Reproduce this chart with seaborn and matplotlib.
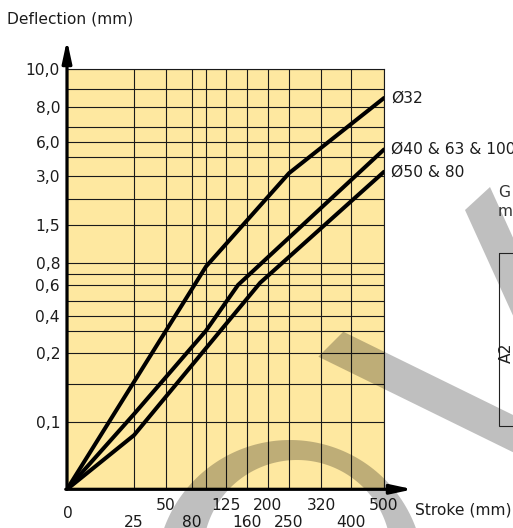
import numpy as np
import pandas as pd
import matplotlib
matplotlib.use("Agg")
import matplotlib.pyplot as plt
import seaborn as sns
from matplotlib.path import Path
from matplotlib.patches import PathPatch, Polygon, Rectangle

# ---------------- data ----------------
SERIES = ["Ø32", "Ø40 & 63 & 100", "Ø50 & 80"]
STROKE_32 = [0, 100, 250, 500]
DEFL_32 = [0, 0.77, 3.3, 8.5]
STROKE_40 = [0, 25, 100, 145, 500]
DEFL_40 = [0, 0.11, 0.3, 0.6, 5.5]
STROKE_50 = [0, 25, 185, 500]
DEFL_50 = [0, 0.08, 0.62, 3.45]

X_GRID = [0, 25, 50, 80, 100, 125, 160, 200, 250, 320, 400, 500]
X_LABELS_UPPER = [50, 125, 200, 320, 500]
X_LABELS_LOWER = [25, 80, 160, 250, 400]
Y_GRID = [0, 0.1, 0.15, 0.2, 0.3, 0.4, 0.5, 0.6, 0.7, 0.8, 1.5, 2, 3, 5, 6, 7, 8, 9, 10]
Y_LABELED = [0.1, 0.2, 0.4, 0.6, 0.8, 1.5, 3, 6, 8, 10]

# ---------------- layout (nomogram scale definition) ----------------
W, H = 513, 528
AX_L, AX_R, AX_T, AX_B = 67, 384, 69.3, 489.3
X_POS_PX = [67, 134, 166, 192, 206, 226, 247, 268, 289, 321, 351, 384]
Y_POS_PX = [489.3, 421.7, 383.7, 353.3, 330.7, 315.7, 300.7, 285, 274, 263.3,
            225.3, 199, 176, 157.3, 141.7, 126.7, 107.3, 88.7, 69.3]
x_frac = [(p - AX_L) / (AX_R - AX_L) for p in X_POS_PX]
y_frac = [(AX_B - p) / (AX_B - AX_T) for p in Y_POS_PX]


def make_interp(xs, ys):
    xs = np.asarray(xs, float)
    ys = np.asarray(ys, float)

    def f(v):
        v = np.asarray(v, float)
        out = np.interp(v, xs, ys)
        lo = v < xs[0]
        hi = v > xs[-1]
        out = np.where(lo, ys[0] + (v - xs[0]) * (ys[1] - ys[0]) / (xs[1] - xs[0]), out)
        out = np.where(hi, ys[-1] + (v - xs[-1]) * (ys[-1] - ys[-2]) / (xs[-1] - xs[-2]), out)
        return out
    return f


fx, fx_inv = make_interp(X_GRID, x_frac), make_interp(x_frac, X_GRID)
fy, fy_inv = make_interp(Y_GRID, y_frac), make_interp(y_frac, Y_GRID)

sns.set_style("white")
plt.rcParams["font.family"] = ["DejaVu Sans"]
FS = 11.2
TXT = "#1c1c1c"
YELLOW = "#FEE8A0"

fig = plt.figure(figsize=(W / 100, H / 100), dpi=100)
fig.patch.set_facecolor("white")
ax = fig.add_axes([AX_L / W, (H - AX_B) / H, (AX_R - AX_L) / W, (AX_B - AX_T) / H])
ax.set_facecolor(YELLOW)

df = pd.concat([
    pd.DataFrame({"stroke": STROKE_32, "deflection": DEFL_32, "series": SERIES[0]}),
    pd.DataFrame({"stroke": STROKE_40, "deflection": DEFL_40, "series": SERIES[1]}),
    pd.DataFrame({"stroke": STROKE_50, "deflection": DEFL_50, "series": SERIES[2]}),
], ignore_index=True)

sns.lineplot(data=df, x="stroke", y="deflection", hue="series",
             palette=["black"] * 3, linewidth=2.9, legend=False, ax=ax,
             sort=False, estimator=None, solid_joinstyle="round")

ax.set_xscale("function", functions=(fx, fx_inv))
ax.set_yscale("function", functions=(fy, fy_inv))
ax.set_xlim(X_GRID[0], X_GRID[-1])
ax.set_ylim(Y_GRID[0], Y_GRID[-1])
ax.set_xticks(X_GRID)
ax.set_xticklabels([])
ax.set_yticks(Y_GRID)
ax.set_yticklabels([f"{v:.1f}".replace(".", ",") if v in Y_LABELED else "" for v in Y_GRID])
ax.minorticks_off()
ax.tick_params(axis="both", length=0)
ax.tick_params(axis="y", pad=5, labelsize=FS, labelcolor=TXT)
ax.set_xlabel("")
ax.set_ylabel("")
ax.grid(True, color="#1a1a1a", lw=0.8)
ax.set_axisbelow(True)
for s in ["left", "bottom"]:
    ax.spines[s].set_visible(False)
for s in ["top", "right"]:
    ax.spines[s].set_visible(True)
    ax.spines[s].set_color("#1a1a1a")
    ax.spines[s].set_linewidth(0.8)

# axis arrows
arrow_style = "-|>,head_length=1.3,head_width=0.28"
ax.annotate("", xy=(0, (AX_B - 40) / (AX_B - AX_T)), xytext=(0, 0), xycoords="axes fraction",
            arrowprops=dict(arrowstyle=arrow_style, lw=2.3, color="black",
                            shrinkA=0, shrinkB=0, mutation_scale=10), annotation_clip=False)
ax.annotate("", xy=((413 - AX_L) / (AX_R - AX_L), 0), xytext=(-0.004, 0), xycoords="axes fraction",
            arrowprops=dict(arrowstyle=arrow_style, lw=2.3, color="black",
                            shrinkA=0, shrinkB=0, mutation_scale=10), annotation_clip=False)

# x tick labels (two staggered rows)
ax.annotate("0", xy=(0, 0), xycoords=("data", "axes fraction"), xytext=(1, -24),
            textcoords="offset pixels", ha="center", va="center", fontsize=FS, color=TXT,
            annotation_clip=False)
for v in X_LABELS_UPPER:
    ax.annotate(str(v), xy=(v, 0), xycoords=("data", "axes fraction"), xytext=(0, -16),
                textcoords="offset pixels", ha="center", va="center", fontsize=FS, color=TXT,
                annotation_clip=False)
for v in X_LABELS_LOWER:
    ax.annotate(str(v), xy=(v, 0), xycoords=("data", "axes fraction"), xytext=(0, -33),
                textcoords="offset pixels", ha="center", va="center", fontsize=FS, color=TXT,
                annotation_clip=False)

# series labels at line ends
for name, s, d in zip(SERIES, [STROKE_32, STROKE_40, STROKE_50], [DEFL_32, DEFL_40, DEFL_50]):
    ax.annotate(name, xy=(s[-1], d[-1]), xytext=(7, 0), textcoords="offset pixels",
                ha="left", va="center", fontsize=FS, color=TXT, annotation_clip=False)

ax.annotate("Stroke (mm)", xy=(1, 0), xycoords="axes fraction", xytext=(31, -21),
            textcoords="offset pixels", ha="left", va="center", fontsize=FS, color=TXT,
            annotation_clip=False)
fig.text(7 / W, 1 - 19 / H, "Deflection (mm)", ha="left", va="center", fontsize=FS, color=TXT)

# decorative watermark overlay (figure pixel space)
ov = fig.add_axes([0, 0, 1, 1], zorder=5)
ov.set_xlim(0, W)
ov.set_ylim(H, 0)
ov.axis("off")
ov.patch.set_alpha(0)
th = np.linspace(0, 2 * np.pi, 240)
outer = np.c_[290 + 134 * np.cos(th), 574 + 134 * np.sin(th)]
inner = np.c_[297 + 94 * np.cos(th), 554 + 94 * np.sin(th)][::-1]
ring = Path.make_compound_path(Path(outer, closed=True), Path(inner, closed=True))
shade = dict(facecolor="black", alpha=0.25, edgecolor="none")
ov.add_patch(PathPatch(ring, **shade))
ov.add_patch(Polygon([(318.3, 356.7), (343.3, 331.7), (560, 438), (535, 463)], closed=True, **shade))
ov.add_patch(Polygon([(465, 210), (490, 187), (550, 319), (525, 342)], closed=True, **shade))
ov.add_patch(Rectangle((499.3, 253.3), 40, 172.7, fill=False, lw=0.8, edgecolor="#222222"))
ov.text(506.5, 353, "A2", rotation=90, ha="center", va="center", fontsize=FS, color=TXT)
ov.text(498, 197, "G", ha="left", va="baseline", fontsize=FS, color="#333333")
ov.text(498, 216, "m", ha="left", va="baseline", fontsize=FS, color="#333333")

fig.savefig("out.png", dpi=100)
